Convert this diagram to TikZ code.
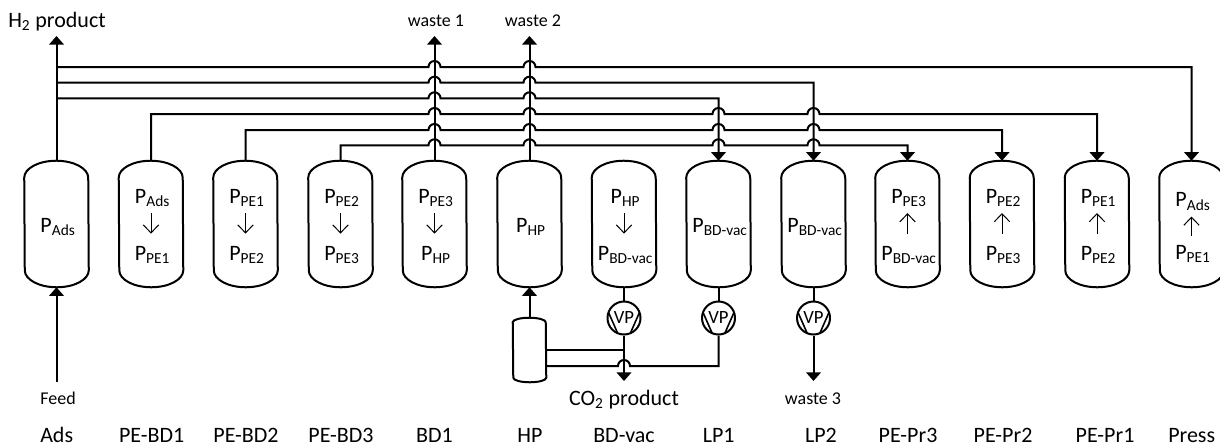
\documentclass[tikz,border=0pt]{standalone}
\usepackage{fontspec}
\setmainfont{Carlito}
\usetikzlibrary{arrows.meta, calc}
\newcommand{\pres}[1]{P\textsubscript{#1}}
% line crossing: jump over the vertical at x=#1 on the level y=#2
\newcommand{\hop}[2]{-- (#1-6,#2) arc[start angle=180, end angle=360, radius=6]}
\tikzset{
    pipe/.style={line width=1.5pt},
    flow/.style={pipe, -{Triangle[length=6.5pt, width=11pt]}},
    drop/.style={-{Straight Barb[length=6pt, width=11.5pt]}, line width=0.75pt, shorten <=4.5pt, shorten >=9pt},
    vesselbox/.style 2 args={inner sep=0pt, append after command={\pgfextra{
        \draw[pipe] ($(\tikzlastnode.north west)+(0,#2)$)
            arc[start angle=180, end angle=360, x radius=#1, y radius=#2]
            -- ($(\tikzlastnode.south east)+(0,-#2)$)
            arc[start angle=0, end angle=180, x radius=#1, y radius=#2] -- cycle;}}},
    vessel/.style={vesselbox={32}{17}, minimum width=48pt, minimum height=94.5pt},
    tank/.style={vesselbox={16.5}{4.5}, minimum width=24.75pt, minimum height=48pt},
    pump/.style={circle, draw, pipe, inner sep=0pt, minimum size=24.75pt, font=\fontsize{14}{16}\selectfont,
        path picture={\draw[line width=1.2pt]
            ($(path picture bounding box.center)+(-17,-9)$) -- ($(path picture bounding box.center)+(-6,16)$)
            ($(path picture bounding box.center)+(17,-9)$) -- ($(path picture bounding box.center)+(6,16)$);}},
    pressure/.style={anchor=base, inner sep=0pt, font=\fontsize{16.5}{18}\selectfont},
    caption/.style={anchor=base, inner sep=0pt, font=\fontsize{16.5}{18}\selectfont},
    stream/.style={anchor=base, inner sep=0pt, font=\fontsize{13.5}{15}\selectfont}
}
\begin{document}
\begin{tikzpicture}[x=0.75pt, y=-0.75pt]
\useasboundingbox (0,0) rectangle (1220,446);

% Vessels
\node[vessel] (ads) at (56.5,224) {};
\node[vessel] (pebd1) at (151,224) {};
\node[vessel] (pebd2) at (245.5,224) {};
\node[vessel] (pebd3) at (340.5,224) {};
\node[vessel] (bd1) at (434.5,224) {};
\node[vessel] (hp) at (529.5,224) {};
\node[vessel] (bdvac) at (624,224) {};
\node[vessel] (lp1) at (718.5,224) {};
\node[vessel] (lp2) at (813.5,224) {};
\node[vessel] (pepr3) at (907.5,224) {};
\node[vessel] (pepr2) at (1002,224) {};
\node[vessel] (pepr1) at (1097,224) {};
\node[vessel] (press) at (1191.5,224) {};

% Pressures inside the vessels
\node[pressure] (ads-a) at (58,232.3) {\pres{Ads}};
\node[pressure] (hp-a) at (531,232.3) {\pres{HP}};
\node[pressure] (lp1-a) at (720,232.3) {\pres{BD-vac}};
\node[pressure] (lp2-a) at (815,232.3) {\pres{BD-vac}};

\node[pressure] (pebd1-a) at (152.5,203.3) {\pres{Ads}};
\node[pressure] (pebd1-b) at (152.5,260) {\pres{PE1}};
\node[pressure] (pebd2-a) at (247,203.3) {\pres{PE1}};
\node[pressure] (pebd2-b) at (247,260) {\pres{PE2}};
\node[pressure] (pebd3-a) at (342,203.3) {\pres{PE2}};
\node[pressure] (pebd3-b) at (342,260) {\pres{PE3}};
\node[pressure] (bd1-a) at (436,203.3) {\pres{PE3}};
\node[pressure] (bd1-b) at (436,260) {\pres{HP}};
\node[pressure] (bdvac-a) at (625.5,203.3) {\pres{HP}};
\node[pressure] (bdvac-b) at (625.5,260) {\pres{BD-vac}};
\node[pressure] (pepr3-a) at (909,203.3) {\pres{PE3}};
\node[pressure] (pepr3-b) at (909,260) {\pres{BD-vac}};
\node[pressure] (pepr2-a) at (1003.5,203.3) {\pres{PE2}};
\node[pressure] (pepr2-b) at (1003.5,260) {\pres{PE3}};
\node[pressure] (pepr1-a) at (1098.5,203.3) {\pres{PE1}};
\node[pressure] (pepr1-b) at (1098.5,260) {\pres{PE2}};
\node[pressure] (press-a) at (1193,206.7) {\pres{Ads}};
\node[pressure] (press-b) at (1193,259.5) {\pres{PE1}};

\draw[drop] (pebd1-a.south -| pebd1) -- (pebd1-b.north -| pebd1);
\draw[drop] (pebd2-a.south -| pebd2) -- (pebd2-b.north -| pebd2);
\draw[drop] (pebd3-a.south -| pebd3) -- (pebd3-b.north -| pebd3);
\draw[drop] (bd1-a.south -| bd1) -- (bd1-b.north -| bd1);
\draw[drop] (bdvac-a.south -| bdvac) -- (bdvac-b.north -| bdvac);
\draw[drop, shorten >=4.5pt, shorten <=9pt] (pepr3-b.north -| pepr3) -- (pepr3-a.south -| pepr3);
\draw[drop, shorten >=4.5pt, shorten <=9pt] (pepr2-b.north -| pepr2) -- (pepr2-a.south -| pepr2);
\draw[drop, shorten >=4.5pt, shorten <=9pt] (pepr1-b.north -| pepr1) -- (pepr1-a.south -| pepr1);
\draw[drop, shorten >=4.5pt, shorten <=7pt] (press-b.north -| press) -- (press-a.south -| press);

% Streams on top
\node[caption] (h2) at (57,27.3) {H\textsubscript{2} product};
\node[stream] (waste1) at (436,26.7) {waste 1};
\node[stream] (waste2) at (533,26.7) {waste 2};
\coordinate (h2-tip) at (56.5,36);
\coordinate (waste1-tip) at (434.5,36);
\coordinate (waste2-tip) at (529.5,36);
\draw[flow] (ads.north) -- (h2-tip);
\draw[flow] (bd1.north) -- (waste1-tip);
\draw[flow] (hp.north) -- (waste2-tip);

% Headers from the product line
\coordinate (h2-a) at (56.5,67);
\coordinate (h2-b) at (56.5,82.7);
\coordinate (h2-c) at (56.5,98.3);
\draw[flow] (h2-a) \hop{434.5}{67} \hop{529.5}{67} -| (press.north);
\draw[flow] (h2-b) \hop{434.5}{82.7} \hop{529.5}{82.7} -| (lp2.north);
\draw[flow] (h2-c) \hop{434.5}{98.3} \hop{529.5}{98.3} -| (lp1.north);

% Pressure equalization lines
\draw[flow] (pebd1.north) |- (151,114) \hop{434.5}{114} \hop{529.5}{114} \hop{718.5}{114} \hop{813.5}{114} -| (pepr1.north);
\draw[flow] (pebd2.north) |- (245.5,130) \hop{434.5}{130} \hop{529.5}{130} \hop{718.5}{130} \hop{813.5}{130} -| (pepr2.north);
\draw[flow] (pebd3.north) |- (340.5,145.3) \hop{434.5}{145.3} \hop{529.5}{145.3} \hop{718.5}{145.3} \hop{813.5}{145.3} -| (pepr3.north);

% Feed
\node[stream] (feed) at (58,404) {Feed};
\coordinate (feed-in) at (56.5,381.7);
\draw[flow] (feed-in) -- (ads.south);

% Vacuum pumps and the tank
\node[tank] (co2tank) at (529.5,350) {};
\node[pump] (vp1) at (624,318) {VP};
\node[pump] (vp2) at (718.5,318) {VP};
\node[pump] (vp3) at (813.5,318) {VP};
\draw[flow] (co2tank.north) -- (hp.south);
\draw[pipe] (bdvac.south) -- (vp1.north);
\draw[pipe] (lp1.south) -- (vp2.north);
\draw[pipe] (lp2.south) -- (vp3.north);

\node[caption] (co2) at (624,405) {CO\textsubscript{2} product};
\node[stream] (waste3) at (813,404) {waste 3};
\coordinate (co2-tip) at (624,381);
\coordinate (waste3-tip) at (813.5,381);
\draw[flow] (vp1.south) -- (co2-tip);
\draw[flow] (vp3.south) -- (waste3-tip);
\draw[pipe] (co2tank.east) -- (co2tank.east -| vp1.south);
\draw[pipe] ($(co2tank.east)+(0,16)$) \hop{624}{366} -| (vp2.south);

% Step names
\node[caption] (s-ads) at (56.7,442.7) {Ads};
\node[caption] (s-pebd1) at (151.7,442.7) {PE-BD1};
\node[caption] (s-pebd2) at (246,442.7) {PE-BD2};
\node[caption] (s-pebd3) at (341,442.7) {PE-BD3};
\node[caption] (s-bd1) at (434.5,442.7) {BD1};
\node[caption] (s-hp) at (530,442.7) {HP};
\node[caption] (s-bdvac) at (624,442.7) {BD-vac};
\node[caption] (s-lp1) at (718.7,442.7) {LP1};
\node[caption] (s-lp2) at (821,442.7) {LP2};
\node[caption] (s-pepr3) at (908,442.7) {PE-Pr3};
\node[caption] (s-pepr2) at (1003,442.7) {PE-Pr2};
\node[caption] (s-pepr1) at (1105,442.7) {PE-Pr1};
\node[caption] (s-press) at (1191.7,442.7) {Press};
\end{tikzpicture}
\end{document}
